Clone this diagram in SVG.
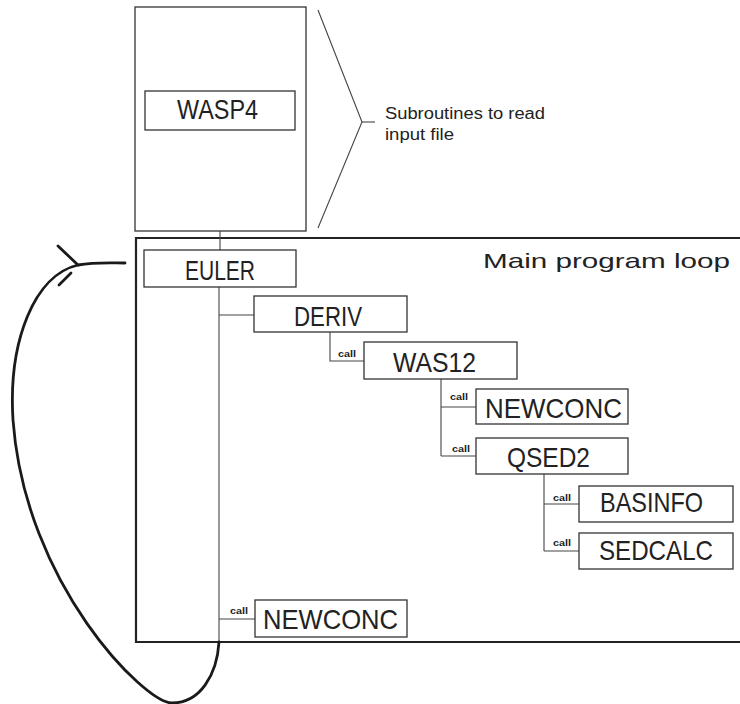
<svg xmlns="http://www.w3.org/2000/svg" width="740" height="704" viewBox="0 0 740 704">
<style>
.bg{fill:#ffffff}
.box{fill:none;stroke:#333;stroke-width:1.3}
.frame{fill:none;stroke:#222;stroke-width:2.2}
.ln{fill:none;stroke:#444;stroke-width:1.1}
.loop{fill:none;stroke:#1a1a1a;stroke-width:2.8;stroke-linecap:round}
.lbl{font-family:"Liberation Sans",Arial,sans-serif;font-size:28px;fill:#222}
.call{font-family:"Liberation Sans",Arial,sans-serif;font-size:9.5px;font-weight:bold;fill:#222}
.note{font-family:"Liberation Sans",Arial,sans-serif;font-size:16px;fill:#222}
.title{font-family:"Liberation Sans",Arial,sans-serif;font-size:21px;fill:#222}
</style>
<rect class="bg" x="0" y="0" width="740" height="704"/>

<g id="wasp4-frame">
<rect class="box" x="135" y="7" width="171" height="224"/>
</g>
<g id="wasp4">
<rect class="box" x="145" y="91" width="150" height="39"/>
<text class="lbl" x="177" y="119" textLength="81" lengthAdjust="spacingAndGlyphs">WASP4</text>
</g>
<g id="note">
<polyline class="ln" points="318,10 362,122 318,228"/>
<line class="ln" x1="362" y1="122" x2="375" y2="122"/>
<text class="note" x="385" y="119" textLength="160" lengthAdjust="spacingAndGlyphs">Subroutines to read</text>
<text class="note" x="385" y="140" textLength="69" lengthAdjust="spacingAndGlyphs">input file</text>
</g>

<g id="main-loop">
<path class="frame" d="M742,238 H136 V642 H742"/>
<text class="title" x="483" y="268" textLength="247" lengthAdjust="spacingAndGlyphs">Main program loop</text>
</g>

<g id="connectors">
<line class="ln" x1="220" y1="231" x2="220" y2="250"/>
<line class="ln" x1="219" y1="287" x2="219" y2="642"/>
<line class="ln" x1="219" y1="315" x2="254" y2="315"/>
<polyline class="ln" points="330,332 330,361 364,361"/>
<line class="ln" x1="441" y1="379" x2="441" y2="456"/>
<line class="ln" x1="441" y1="407" x2="476" y2="407"/>
<line class="ln" x1="441" y1="456" x2="476" y2="456"/>
<line class="ln" x1="544" y1="474" x2="544" y2="551"/>
<line class="ln" x1="544" y1="504" x2="579" y2="504"/>
<line class="ln" x1="544" y1="551" x2="579" y2="551"/>
<line class="ln" x1="219" y1="619" x2="255" y2="619"/>
<text class="call" x="338" y="357" textLength="18" lengthAdjust="spacingAndGlyphs">call</text>
<text class="call" x="450" y="400" textLength="18" lengthAdjust="spacingAndGlyphs">call</text>
<text class="call" x="452" y="452" textLength="18" lengthAdjust="spacingAndGlyphs">call</text>
<text class="call" x="553" y="501" textLength="18" lengthAdjust="spacingAndGlyphs">call</text>
<text class="call" x="553" y="546" textLength="18" lengthAdjust="spacingAndGlyphs">call</text>
<text class="call" x="230" y="614" textLength="18" lengthAdjust="spacingAndGlyphs">call</text>
<path class="loop" d="M219,642 C217,675 200,703 172,703 C145,703 25,585 13,420 C8,340 35,275 78,265 C95,262 110,263 125,263"/>
<line class="loop" x1="58" y1="246" x2="78" y2="265"/>
<line class="loop" x1="59" y1="285" x2="71" y2="273"/>
</g>

<g id="euler">
<rect class="box" x="144" y="250" width="152" height="37"/>
<text class="lbl" x="185" y="280" textLength="70" lengthAdjust="spacingAndGlyphs">EULER</text>
</g>
<g id="deriv">
<rect class="box" x="254" y="296" width="153" height="36"/>
<text class="lbl" x="294" y="326" textLength="68" lengthAdjust="spacingAndGlyphs">DERIV</text>
</g>
<g id="was12">
<rect class="box" x="364" y="342" width="153" height="37"/>
<text class="lbl" x="393" y="372" textLength="83" lengthAdjust="spacingAndGlyphs">WAS12</text>
</g>
<g id="newconc-1">
<rect class="box" x="476" y="389" width="152" height="35"/>
<text class="lbl" x="485" y="418" textLength="137" lengthAdjust="spacingAndGlyphs">NEWCONC</text>
</g>
<g id="qsed2">
<rect class="box" x="476" y="438" width="152" height="36"/>
<text class="lbl" x="507" y="467" textLength="83" lengthAdjust="spacingAndGlyphs">QSED2</text>
</g>
<g id="basinfo">
<rect class="box" x="579" y="486" width="154" height="36"/>
<text class="lbl" x="600" y="512" textLength="103" lengthAdjust="spacingAndGlyphs">BASINFO</text>
</g>
<g id="sedcalc">
<rect class="box" x="579" y="533" width="154" height="36"/>
<text class="lbl" x="599" y="560" textLength="114" lengthAdjust="spacingAndGlyphs">SEDCALC</text>
</g>
<g id="newconc-2">
<rect class="box" x="255" y="600" width="152" height="37"/>
<text class="lbl" x="263" y="629" textLength="135" lengthAdjust="spacingAndGlyphs">NEWCONC</text>
</g>
</svg>
